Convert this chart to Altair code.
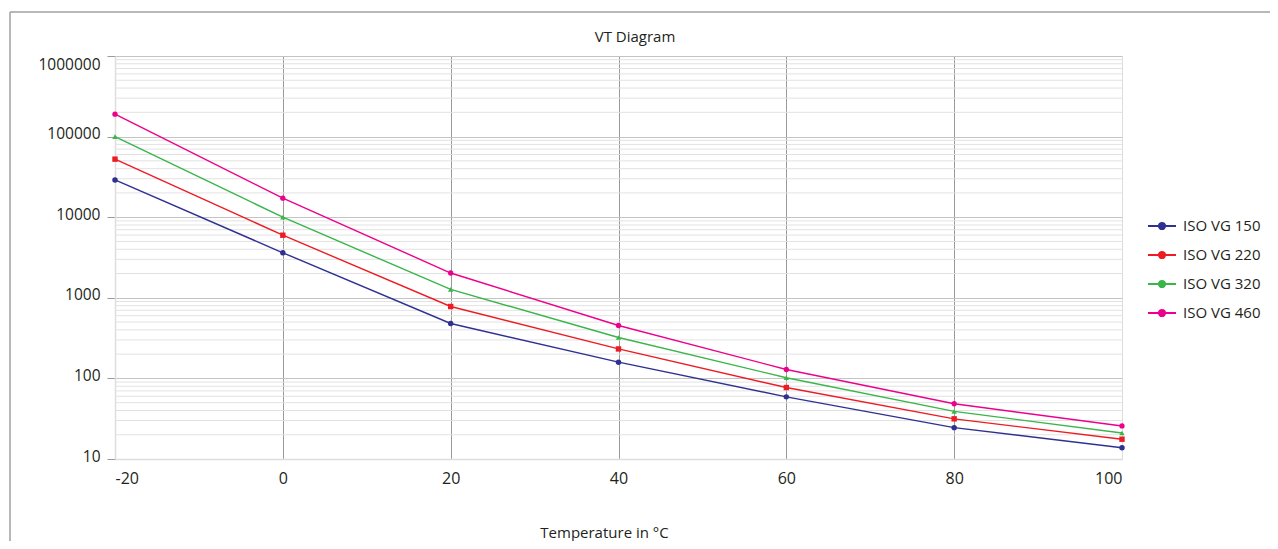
import altair as alt
import pandas as pd

temps = [-20, 0, 20, 40, 60, 80, 100]
series_names = ["ISO VG 150", "ISO VG 220", "ISO VG 320", "ISO VG 460"]
vg150 = [29000, 3620, 480, 159, 59, 24.5, 13.8]
vg220 = [52500, 5980, 780, 232, 77, 31.5, 17.6]
vg320 = [100000, 10000, 1270, 322, 102, 39, 21]
vg460 = [190000, 17200, 2030, 453, 129, 48.5, 25.7]
colors = ["#2e3192", "#ed1c24", "#39b54a", "#ec008c"]
shapes = ["circle", "square", "triangle-up", "circle"]
sizes = [30, 28, 24, 22]

x_ticks = [-20, 0, 20, 40, 60, 80, 100]
y_ticks = [10, 100, 1000, 10000, 100000, 1000000]
minor_ticks = [m * d for d in [10, 100, 1000, 10000, 100000] for m in range(2, 10)]
chart_title = "VT Diagram"
x_title = "Temperature in °C"

rows = []
for name, vals in zip(series_names, [vg150, vg220, vg320, vg460]):
    for t, v in zip(temps, vals):
        rows.append({"T": t, "V": v, "Series": name})
df = pd.DataFrame(rows)

FONT = "Open Sans"
TXT = "#231f20"

yscale = alt.Scale(type="log", domain=[10, 1000000], nice=False)
xscale = alt.Scale(domain=[-20, 100], nice=False, zero=False)

x_axis = alt.Axis(
    values=x_ticks, ticks=False, labelFlush=True, labelPadding=11,
    labelExpr="'' + datum.value",
    labelFontSize=16, labelColor=TXT, labelFont=FONT,
    gridColor={"condition": {"test": "datum.value > -20 && datum.value < 100", "value": "#9a9a9a"}, "value": "#dddddd"},
    gridWidth=1, domainColor="#dddddd", domainWidth=1.5,
    title=x_title, titleFont=FONT, titleFontSize=15,
    titleFontWeight="normal", titleColor=TXT, titleX=489, titleY=73,
    titleBaseline="middle", titleAnchor="middle",
)
y_axis = alt.Axis(
    values=y_ticks, format="d", tickSize=8, tickColor="#9a9a9a",
    labelPadding=7, labelFontSize=15.5, labelColor=TXT, labelFont=FONT,
    labelFlush=False,
    labelBaseline={"condition": {"test": "datum.value >= 1000000", "value": "top"}, "value": "middle"},
    labelOffset={"condition": {"test": "datum.value >= 1000000", "value": 1}, "value": -3},
    gridColor="#c4c4c4", gridWidth=1,
    domainColor="#dddddd", domainWidth=1.5, title=None,
)

minor = alt.Chart(pd.DataFrame({"v": minor_ticks})).mark_rule(
    color="#e2e2e2", strokeWidth=1
).encode(y=alt.Y("v:Q", scale=yscale, axis=y_axis))

legend_symbol = ("M-1,0L1,0"
                 "M-0.22,0A0.22,0.22,0,1,1,0.22,0A0.22,0.22,0,1,1,-0.22,0Z"
                 "M-0.1,0A0.1,0.1,0,1,1,0.1,0A0.1,0.1,0,1,1,-0.1,0Z")

lines = alt.Chart(df).mark_line(strokeWidth=1.4).encode(
    x=alt.X("T:Q", scale=xscale, axis=x_axis),
    y=alt.Y("V:Q", scale=yscale, axis=y_axis),
    color=alt.Color(
        "Series:N", scale=alt.Scale(domain=series_names, range=colors),
        legend=alt.Legend(
            title=None, orient="none", legendX=1032, legendY=155,
            symbolType=legend_symbol, symbolSize=784, symbolStrokeWidth=2,
            labelFontSize=15, labelFont=FONT, labelColor=TXT, labelOffset=6,
            rowPadding=6,
        ),
    ),
)

points = alt.Chart(df).mark_point(filled=True, opacity=1).encode(
    x=alt.X("T:Q", scale=xscale, axis=x_axis),
    y=alt.Y("V:Q", scale=yscale, axis=y_axis),
    color=alt.Color("Series:N", scale=alt.Scale(domain=series_names, range=colors), legend=None),
    shape=alt.Shape("Series:N", scale=alt.Scale(domain=series_names, range=shapes), legend=None),
    size=alt.Size("Series:N", scale=alt.Scale(domain=series_names, range=sizes), legend=None),
)

frame_df = pd.DataFrame({"k": [0]})
frame_top = alt.Chart(frame_df).mark_rule(color="#a0a0a0", strokeWidth=1.5).encode(
    x=alt.value(-105), x2=alt.value(1155), y=alt.value(-44)
)
frame_left = alt.Chart(frame_df).mark_rule(color="#a0a0a0", strokeWidth=1.5).encode(
    x=alt.value(-105), y=alt.value(-44), y2=alt.value(485)
)
title_text = alt.Chart(frame_df).mark_text(
    font=FONT, fontSize=15, color=TXT, align="center", baseline="middle"
).encode(x=alt.value(520), y=alt.value(-19), text=alt.value(chart_title))

chart = alt.layer(minor, lines, points, frame_top, frame_left, title_text).resolve_scale(
    color="independent"
).resolve_legend(color="independent").properties(
    width=1007, height=403,
    padding={"left": 107, "top": 48, "right": 148, "bottom": 82},
    autosize=alt.AutoSizeParams(type="none"),
).configure_view(stroke="#dddddd", strokeWidth=1.5).configure(font=FONT)

chart.save("out.html", embed_options={"renderer": "svg", "actions": False})
